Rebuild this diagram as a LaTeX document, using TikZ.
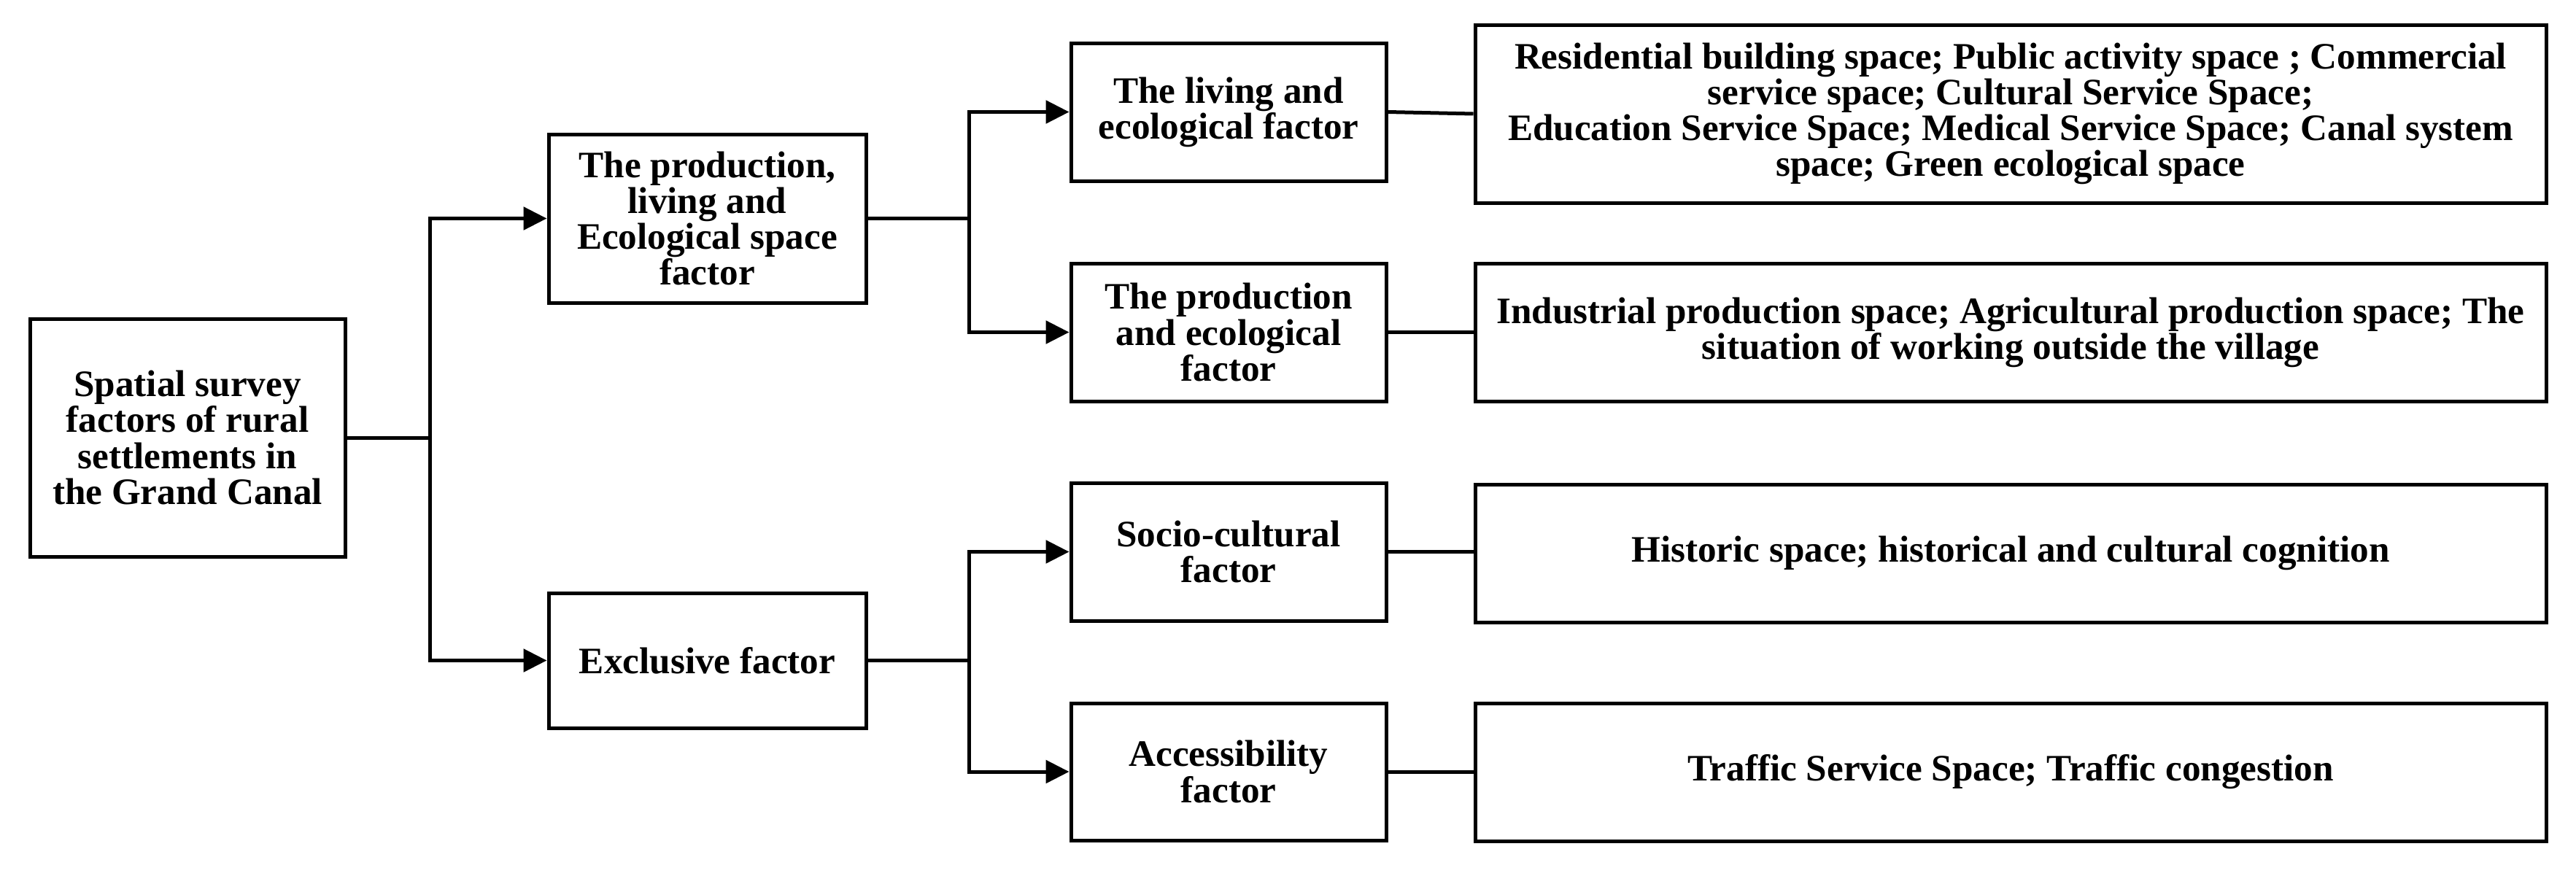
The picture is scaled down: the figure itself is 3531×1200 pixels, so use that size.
\documentclass[tikz,border=0pt]{standalone}
\usepackage{fontspec}
\setmainfont{Liberation Serif}
\usetikzlibrary{arrows.meta}
\begin{document}
\begin{tikzpicture}[x=0.25pt,y=-0.25pt,
  box/.style={draw, line width=1.25pt, align=center, inner sep=0pt,
    font=\bfseries\fontsize{12.8}{12.3}\selectfont},
  conn/.style={line width=1.25pt},
  arr/.style={line width=1.25pt, -{Triangle[length=8pt,width=7.8pt]}}]
\useasboundingbox (0,0) rectangle (3531,1200);
\node[box, minimum width=108pt, minimum height=81.5pt] (root) at (257,600)
  {Spatial survey\\factors of rural\\settlements in\\the Grand Canal};
\node[box, minimum width=108.75pt, minimum height=57.75pt] (A) at (969.5,299.5)
  {The production,\\living and\\Ecological space\\factor};
\node[box, minimum width=108.75pt, minimum height=46.25pt] (B) at (969.5,905.5)
  {Exclusive factor};
\node[box, minimum width=108pt, minimum height=47.25pt] (C1) at (1684,153.5)
  {The living and\\ecological factor};
\node[box, minimum width=108pt, minimum height=47.25pt] (C2) at (1684,455.5)
  {The production\\and ecological\\factor};
\node[box, minimum width=108pt, minimum height=47.25pt] (C3) at (1684,756.5)
  {Socio-cultural\\factor};
\node[box, minimum width=108pt, minimum height=47pt] (C4) at (1684,1058)
  {Accessibility\\factor};
\node[box, minimum width=367pt, minimum height=61pt] (D1) at (2756,156)
  {Residential building space; Public activity space ; Commercial\\service space; Cultural Service Space;\\Education Service Space; Medical Service Space; Canal system\\space; Green ecological space};
\node[box, minimum width=367pt, minimum height=47.25pt] (D2) at (2756,455.5)
  {Industrial production space; Agricultural production space; The\\situation of working outside the village};
\node[box, minimum width=367pt, minimum height=47.25pt] (D3) at (2756,758.5)
  {Historic space; historical and cultural cognition};
\node[box, minimum width=367pt, minimum height=47.25pt] (D4) at (2756,1058.5)
  {Traffic Service Space; Traffic congestion};
\coordinate (j1) at (589,600);
\coordinate (j2) at (1328,299.5);
\coordinate (j3) at (1328,905.5);
\draw[conn] (root.east) -- (j1);
\draw[arr] (j1) |- (A.west);
\draw[arr] (j1) |- (B.west);
\draw[conn] (A.east) -- (j2);
\draw[arr] (j2) |- (C1.west);
\draw[arr] (j2) |- (C2.west);
\draw[conn] (B.east) -- (j3);
\draw[arr] (j3) |- (C3.west);
\draw[arr] (j3) |- (C4.west);
\draw[conn] (C1.east) -- (D1.west);
\draw[conn] (C2.east) -- (C2.east -| D2.west);
\draw[conn] (C3.east) -- (C3.east -| D3.west);
\draw[conn] (C4.east) -- (C4.east -| D4.west);
\end{tikzpicture}
\end{document}
